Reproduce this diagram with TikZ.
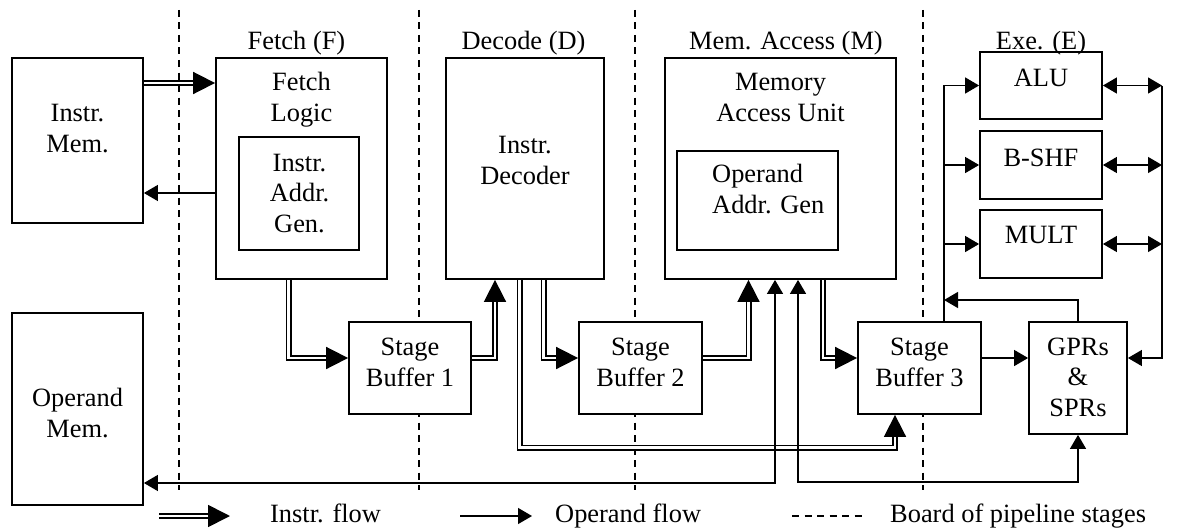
\documentclass[tikz,border=0pt]{standalone}
\usepackage{fontspec}
\setmainfont{Liberation Serif}
\usetikzlibrary{arrows.meta,backgrounds}
\begin{document}
\begin{tikzpicture}[x=1pt,y=-1pt,
  every node/.style={font=\fontsize{26.4}{30.5}\selectfont},
  box/.style={draw,line width=1.8pt,fill=white,inner sep=0pt},
  lbl/.style={align=center,anchor=base,inner sep=0pt},
  txt/.style={anchor=base west,inner sep=0pt},
  stagebd/.style={line width=2pt,dash pattern=on 7pt off 5.5pt},
  sgl/.style={line width=1.3pt,-{Triangle[length=14pt,width=16pt]}},
  bi/.style={line width=1.3pt,{Triangle[length=14pt,width=16pt]}-{Triangle[length=14pt,width=16pt]}},
  dbl/.style={double,double distance=2.6pt,line width=1.7pt,-{Triangle[length=22pt,width=22pt]}}
]
\useasboundingbox (0,0) rectangle (1185,527);

% boxes
\node[box,minimum width=131,minimum height=165] (imem) at (77.5,140.5) {};
\node[box,minimum width=131,minimum height=192] (omem) at (77.5,409) {};
\node[box,minimum width=171,minimum height=221] (fetch) at (301.5,168.5) {};
\node[box,minimum width=120,minimum height=113] (iag) at (299,193.5) {};
\node[box,minimum width=158,minimum height=221] (dec) at (525,168.5) {};
\node[box,minimum width=231,minimum height=221] (mau) at (780.5,168.5) {};
\node[box,minimum width=161,minimum height=99] (oag) at (757.5,200.5) {};
\node[box,minimum width=122,minimum height=92] (sb1) at (410,368) {};
\node[box,minimum width=123,minimum height=92] (sb2) at (640.5,368) {};
\node[box,minimum width=123,minimum height=92] (sb3) at (919.5,368) {};
\node[box,minimum width=98,minimum height=112] (gpr) at (1078,378) {};
\node[box,minimum width=122,minimum height=67] (alu) at (1041,85.5) {};
\node[box,minimum width=122,minimum height=68] (bshf) at (1041,165) {};
\node[box,minimum width=122,minimum height=68] (mult) at (1041,244) {};

% texts (base anchor = baseline of last line)
\node[lbl] (imemT) at (77.5,152) {Instr.\\Mem.};
\node[lbl] (omemT) at (77.5,437) {Operand\\Mem.};
\node[lbl] (fetchT) at (301.5,121) {Fetch\\Logic};
\node[lbl] (iagT) at (299.5,232) {Instr.\\Addr.\\Gen.};
\node[lbl] (decT) at (525,184) {Instr.\\Decoder};
\node[lbl] (mauT) at (780.5,121) {Memory\\Access Unit};
\node[txt,align=left] (oagT) at (712,213) {Operand\\Addr. Gen};
\node[lbl] (sb1T) at (410,386) {Stage\\Buffer 1};
\node[lbl] (sb2T) at (640.5,386) {Stage\\Buffer 2};
\node[lbl] (sb3T) at (919.5,386) {Stage\\Buffer 3};
\node[lbl] (gprT) at (1078,416) {GPRs\\\&\\SPRs};
\node[lbl] (aluT) at (1041,86) {ALU};
\node[lbl] (bshfT) at (1041,166) {B-SHF};
\node[lbl] (multT) at (1041,243) {MULT};

% stage titles
\node[lbl] (stF) at (296.5,49) {Fetch (F)};
\node[lbl] (stD) at (523.5,49) {Decode (D)};
\node[lbl] (stM) at (786,49) {Mem. Access (M)};
\node[lbl] (stE) at (1041,49) {Exe. (E)};

% legend
\coordinate (lgd1) at (159,516);
\coordinate (lgd2) at (230,516);
\coordinate (lgs1) at (460,516);
\coordinate (lgs2) at (532,516);
\coordinate (lgb1) at (792,516);
\coordinate (lgb2) at (865,516);
\node[txt] (lgt1) at (270,522) {Instr. flow};
\node[txt] (lgt2) at (555,522) {Operand flow};
\node[txt] (lgt3) at (890,522) {Board of pipeline stages};

\coordinate (dsb3) at (895,447.5);
\coordinate (busL) at (944,300);
\coordinate (busR) at (1162,86);

\begin{scope}[on background layer]
  % stage borders
  \draw[stagebd] (179,10) -- (179,490);
  \draw[stagebd] (419,10) -- (419,490);
  \draw[stagebd] (635,10) -- (635,490);
  \draw[stagebd] (923,10) -- (923,490);
  \draw[stagebd] (lgb1) -- (lgb2);

  % instruction flow
  \draw[dbl] (imem.east |- 0,83) -- (fetch.west |- 0,83);
  \draw[dbl] (fetch.south -| 288.5,0) |- (sb1.west |- 0,358);
  \draw[dbl] (sb1.east |- 0,358) -| (dec.south -| 495,0);
  \draw[dbl] (dec.south -| 543.5,0) |- (sb2.west |- 0,358);
  \draw[dbl] (sb2.east |- 0,358) -| (mau.south -| 748.5,0);
  \draw[dbl] (mau.south -| 823,0) |- (sb3.west |- 0,358);
  \draw[dbl] (dec.south -| 519.5,0) |- (dsb3) -- (sb3.south -| dsb3);
  \draw[dbl] (lgd1) -- (lgd2);

  % operand flow
  \draw[sgl] (fetch.west |- 0,193) -- (imem.east |- 0,193);
  \draw[bi] (omem.east |- 0,483) -| (mau.south -| 775,0);
  \draw[bi] (mau.south -| 798,0) |- (gpr.south |- 0,482) -- (gpr.south);
  \draw[sgl] (sb3.north -| 944,0) |- (alu.west);
  \draw[sgl] (bshf.west -| 944,0) -- (bshf.west);
  \draw[sgl] (mult.west -| 944,0) -- (mult.west);
  \draw[sgl] (gpr.north) |- (busL);
  \draw[sgl] (sb3.east |- 0,358) -- (gpr.west |- 0,358);
  \draw[bi] (alu.east) -- (alu.east -| busR);
  \draw[bi] (bshf.east) -- (bshf.east -| busR);
  \draw[bi] (mult.east) -- (mult.east -| busR);
  \draw[sgl] (alu.east -| busR) |- (gpr.east |- 0,358);
  \draw[sgl] (lgs1) -- (lgs2);
\end{scope}
\end{tikzpicture}
\end{document}
